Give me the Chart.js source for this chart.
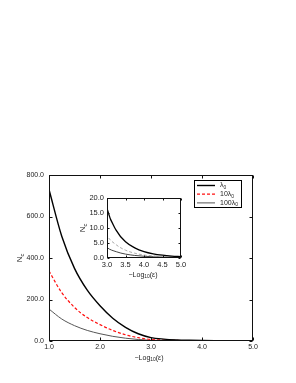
<!DOCTYPE html>
<html>
<head>
<meta charset="utf-8">
<script src="https://cdn.jsdelivr.net/npm/chart.js"></script>
<style>
html, body { margin: 0; padding: 0; background: #fff; }
#wrap { position: relative; width: 296px; height: 383px; }
#main { position: absolute; left: 0; top: 0; }
#inset { position: absolute; left: 70px; top: 188px; }
</style>
</head>
<body>
<div id="wrap">
  <canvas id="main" width="296" height="383"></canvas>
  <canvas id="inset" width="120" height="95"></canvas>
</div>
<script>
// -Log10(eps) values
const xs = [1.0, 1.25, 1.5, 1.75, 2.0, 2.25, 2.5, 2.75, 3.0, 3.25, 3.5, 3.75, 4.0, 4.25, 4.5, 4.75, 5.0];
// N_c for lambda0, 10 lambda0, 100 lambda0
const lam1 = [730, 505, 350, 245, 170, 110, 66, 35, 16.5, 9.2, 5.4, 3.4, 2.15, 1.4, 0.95, 0.65, 0.45];
const lam10 = [337, 233, 162, 113, 79, 51, 30, 16, 7.6, 4.4, 2.6, 1.6, 1.0, 0.7, 0.5, 0.35, 0.25];
const lam100 = [154, 106, 74, 51, 35, 22.5, 13.5, 7.2, 3.5, 2.1, 1.3, 0.85, 0.58, 0.42, 0.31, 0.23, 0.16];

const mainX = { min: 1, max: 5, step: 1 };
const mainY = { min: 0, max: 800, step: 200 };
const insetX = { min: 3, max: 5, step: 0.5 };
const insetY = { min: 0, max: 20, step: 5 };

const FONT = "'Liberation Sans', Arial, sans-serif";

function pts(ys) {
  return xs.map((x, i) => ({ x: x, y: ys[i] }));
}

// draws text made of [string, isSub] parts
function subText(ctx, parts, x, y, size) {
  let w = 0;
  parts.forEach(p => {
    ctx.font = (p[1] ? size * 0.7 : size) + "px " + FONT;
    w += ctx.measureText(p[0]).width;
  });
  let cx = x - w / 2;
  ctx.textAlign = "left";
  ctx.textBaseline = "middle";
  parts.forEach(p => {
    ctx.font = (p[1] ? size * 0.7 : size) + "px " + FONT;
    ctx.fillText(p[0], cx, p[1] ? y + size * 0.3 : y);
    cx += ctx.measureText(p[0]).width;
  });
}

function framePlugin(cfg) {
  return {
    id: "frame",
    afterDraw(chart) {
      const ctx = chart.ctx;
      const a = chart.chartArea;
      const sx = chart.scales.x, sy = chart.scales.y;
      ctx.save();
      ctx.strokeStyle = "#111";
      ctx.lineWidth = 1;
      const l = Math.round(a.left) + 0.5, t = Math.round(a.top) + 0.5;
      const r = Math.round(a.right) - 0.5, b = Math.round(a.bottom) - 0.5;
      ctx.strokeRect(l, t, r - l, b - t);
      ctx.beginPath();
      sx.ticks.forEach(k => {
        const px = Math.round(sx.getPixelForValue(k.value)) + 0.5;
        ctx.moveTo(px, b); ctx.lineTo(px, b - cfg.tick);
        ctx.moveTo(px, t); ctx.lineTo(px, t + cfg.tick);
      });
      sy.ticks.forEach(k => {
        const py = Math.round(sy.getPixelForValue(k.value)) + 0.5;
        ctx.moveTo(l, py); ctx.lineTo(l + cfg.tick, py);
        ctx.moveTo(r, py); ctx.lineTo(r - cfg.tick, py);
      });
      ctx.stroke();

      ctx.fillStyle = "#222";
      subText(ctx, [["\u2212Log", false], ["10", true], ["(\u03b5)", false]], cfg.xTitle[0], cfg.xTitle[1], cfg.titleSize);
      ctx.save();
      ctx.translate(cfg.yTitle[0], cfg.yTitle[1]);
      ctx.rotate(-Math.PI / 2);
      subText(ctx, [["N", false], ["c", true]], 0, 0, cfg.titleSize + 1);
      ctx.restore();

      if (cfg.legend) {
        const lg = cfg.legend;
        ctx.strokeStyle = "#000";
        ctx.strokeRect(lg.x + 0.5, lg.y + 0.5, lg.w, lg.h);
        chart.data.datasets.forEach((ds, i) => {
          const yy = lg.y + 5.5 + i * 8.7;
          ctx.strokeStyle = ds.borderColor;
          ctx.lineWidth = ds.borderWidth;
          ctx.setLineDash(ds.borderDash || []);
          ctx.beginPath();
          ctx.moveTo(lg.x + 3, yy);
          ctx.lineTo(lg.x + 21, yy);
          ctx.stroke();
          ctx.setLineDash([]);
          ctx.fillStyle = "#222";
          const parts = ds.labelParts;
          let w = 0;
          parts.forEach(p => { ctx.font = (p[1] ? 4.9 : 7) + "px " + FONT; w += ctx.measureText(p[0]).width; });
          subText(ctx, parts, lg.x + 26 + w / 2, yy, 7);
        });
      }
      ctx.restore();
    }
  };
}

function axisOpts(lim, pad, fixed, horiz, size) {
  return {
    type: "linear",
    min: lim.min,
    max: lim.max,
    grid: { display: false, drawTicks: false },
    border: { display: false },
    ticks: {
      stepSize: lim.step,
      padding: pad,
      color: "#222",
      font: { family: FONT, size: size },
      maxRotation: 0,
      autoSkip: false,
      callback: v => Number(v).toFixed(1)
    },
    afterFit: s => { if (horiz) s.height = fixed; else s.width = fixed; }
  };
}

new Chart(document.getElementById("main"), {
  type: "line",
  data: {
    datasets: [
      { label: "lambda0", labelParts: [["\u03bb", false], ["0", true]], data: pts(lam1), borderColor: "#000", borderWidth: 1.4 },
      { label: "10 lambda0", labelParts: [["10\u03bb", false], ["0", true]], data: pts(lam10), borderColor: "#ff1010", borderWidth: 1.2, borderDash: [3, 2] },
      { label: "100 lambda0", labelParts: [["100\u03bb", false], ["0", true]], data: pts(lam100), borderColor: "#555", borderWidth: 1 }
    ]
  },
  options: {
    responsive: false,
    animation: false,
    layout: { padding: { top: 175, right: 43, left: 0, bottom: 0 } },
    elements: { point: { radius: 0 }, line: { cubicInterpolationMode: "monotone" } },
    plugins: { legend: { display: false }, tooltip: { enabled: false } },
    scales: {
      x: axisOpts(mainX, 2, 42, true, 7),
      y: axisOpts(mainY, 5, 49, false, 7)
    }
  },
  plugins: [framePlugin({ tick: 3, titleSize: 7, xTitle: [149, 358], yTitle: [20, 258], legend: { x: 194, y: 180, w: 47, h: 27 } })]
});

new Chart(document.getElementById("inset"), {
  type: "line",
  data: {
    datasets: [
      { data: pts(lam1), borderColor: "#000", borderWidth: 1.3 },
      { data: pts(lam10), borderColor: "#aaa", borderWidth: 1, borderDash: [3, 2] },
      { data: pts(lam100), borderColor: "#444", borderWidth: 1 }
    ]
  },
  options: {
    responsive: false,
    animation: false,
    layout: { padding: { top: 10, right: 9, left: 0, bottom: 0 } },
    elements: { point: { radius: 0 }, line: { cubicInterpolationMode: "monotone" } },
    plugins: { legend: { display: false }, tooltip: { enabled: false } },
    scales: {
      x: axisOpts(insetX, 2, 25, true, 7.5),
      y: axisOpts(insetY, 3, 37, false, 7.5)
    }
  },
  plugins: [framePlugin({ tick: 2, titleSize: 7, xTitle: [73, 87], yTitle: [13, 40] })]
});
</script>
</body>
</html>
